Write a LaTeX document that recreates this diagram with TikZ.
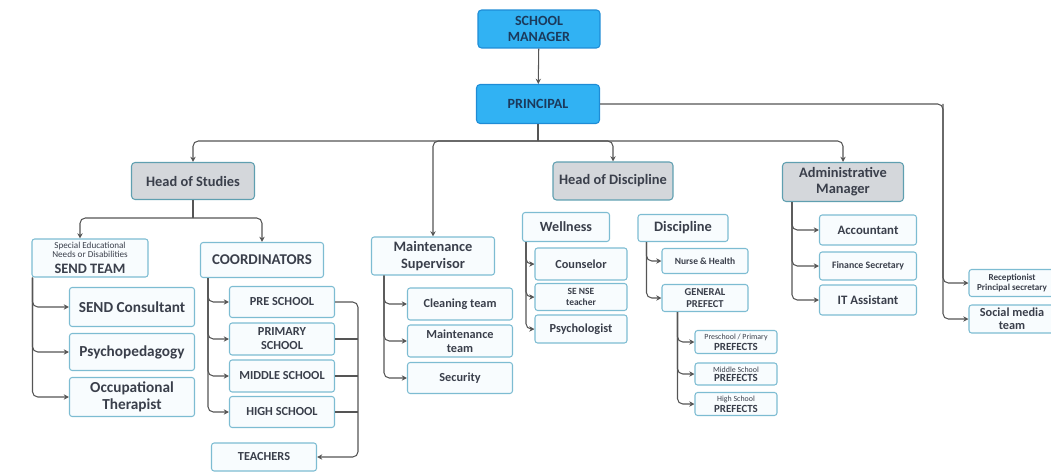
\documentclass[tikz,border=0pt]{standalone}
\usepackage{fontspec}
\setmainfont{Carlito}
\usetikzlibrary{arrows.meta,positioning,calc}

\definecolor{topblue}{HTML}{31B2F3}
\definecolor{topedge}{HTML}{1E8CD6}
\definecolor{headgray}{HTML}{D4D7DB}
\definecolor{headedge}{HTML}{5F9FB0}
\definecolor{unitedge}{HTML}{7DBCD2}
\definecolor{unitfill}{HTML}{F8FCFE}
\definecolor{linegray}{HTML}{555555}
\definecolor{txt}{HTML}{3A3F4B}
\definecolor{navy}{HTML}{1B3A5C}

\newcommand{\fsz}[1]{\fontsize{#1}{#1}\selectfont}

\begin{document}
\begin{tikzpicture}[
  x=0.02cm, y=-0.02cm,
  top/.style={draw=topedge, fill=topblue, rounded corners=2pt, line width=0.6pt, align=center, inner sep=0pt, font=\bfseries\fsz{8}, text=navy},
  head/.style={draw=headedge, fill=headgray, rounded corners=2pt, line width=0.6pt, align=center, inner sep=0pt, font=\bfseries\fsz{8.2}, text=txt},
  unit/.style={draw=unitedge, fill=unitfill, rounded corners=1.5pt, line width=0.6pt, align=center, inner sep=0pt, font=\bfseries\fsz{7}, text=txt},
  conn/.style={draw=linegray, line width=0.6pt, rounded corners=3pt, -{Stealth[length=3pt,width=3pt]}},
  line/.style={draw=linegray, line width=0.6pt, rounded corners=3pt}
]
\useasboundingbox (0,0) rectangle (1051,473);

% top of the chart
\node[top, minimum width=2.44cm, minimum height=0.76cm] (manager) at (539,29) {SCHOOL\\[1pt]MANAGER};
\node[top, minimum width=2.46cm, minimum height=0.78cm] (principal) at (538,104) {PRINCIPAL};
\draw[conn] (manager) -- (principal);

% heads
\node[head, minimum width=2.46cm, minimum height=0.74cm] (studies) at (193,181) {Head of Studies};
\node[head, minimum width=2.40cm, minimum height=0.76cm] (discip) at (613,181) {Head of Discipline};
\node[head, minimum width=2.42cm, minimum height=0.78cm] (admin) at (843,182) {Administrative\\[1pt]Manager};
\node[unit, font=\bfseries\fsz{8.2}, minimum width=2.46cm, minimum height=0.76cm] (maint) at (433,256) {Maintenance\\[1pt]Supervisor};

\coordinate (bus) at (538,141);
\draw[line] (principal.south) -- (bus);
\draw[conn] (bus) -| (studies.north);
\draw[conn] (bus) -| (maint.north);
\draw[conn] (bus) -| (discip.north);
\draw[conn] (bus) -| (admin.north);

% head of studies
\node[unit, font=\mdseries\fsz{5.2}, minimum width=2.32cm, minimum height=0.76cm] (send) at (90,258)
  {Special Educational\\Needs or Disabilities\\[2.4pt]\bfseries\fsz{8.2}SEND TEAM};
\node[unit, font=\bfseries\fsz{8.5}, minimum width=2.46cm, minimum height=0.70cm] (coord) at (262,260) {COORDINATORS};
\coordinate (hsbus) at (193,218);
\draw[line] (studies.south) -- (hsbus);
\draw[conn] (hsbus) -| ([xshift=-0.2cm]send.north);
\draw[conn] (hsbus) -| (coord.north);

\node[unit, font=\bfseries\fsz{8.7}, minimum width=2.50cm, minimum height=0.78cm] (sendcons) at (132,307) {SEND Consultant};
\node[unit, font=\bfseries\fsz{8.7}, minimum width=2.50cm, minimum height=0.74cm] (psycho) at (132,352) {Psychopedagogy};
\node[unit, font=\bfseries\fsz{8.7}, minimum width=2.50cm, minimum height=0.78cm] (occup) at (132,397) {Occupational\\[1pt]Therapist};
\foreach \n in {sendcons,psycho,occup}
  \draw[conn] ([xshift=0.02cm]send.south west) |- (\n.west);

\node[unit, minimum width=2.10cm, minimum height=0.62cm] (pre) at (282,302) {PRE SCHOOL};
\node[unit, minimum width=2.10cm, minimum height=0.64cm] (primary) at (282,339) {PRIMARY\\[1pt]SCHOOL};
\node[unit, minimum width=2.10cm, minimum height=0.64cm] (middle) at (282,376) {MIDDLE SCHOOL};
\node[unit, minimum width=2.10cm, minimum height=0.62cm] (high) at (282,412) {HIGH SCHOOL};
\node[unit, minimum width=2.10cm, minimum height=0.56cm] (teachers) at (264,457) {TEACHERS};
\foreach \n in {pre,primary,middle,high}
  \draw[conn] ([xshift=0.16cm]coord.south west) |- (\n.west);
\draw[conn] (pre.east) -| ([xshift=0.46cm]high.east) |- (teachers.east);
\foreach \n in {primary,middle,high}
  \draw[line] (\n.east) -- ++(23,0);

% maintenance
\node[unit, minimum width=2.10cm, minimum height=0.64cm] (cleaning) at (460,304) {Cleaning team};
\node[unit, minimum width=2.10cm, minimum height=0.64cm] (mteam) at (460,341) {Maintenance\\[1pt]team};
\node[unit, minimum width=2.10cm, minimum height=0.62cm] (security) at (460,378) {Security};
\foreach \n in {cleaning,mteam,security}
  \draw[conn] ([xshift=0.26cm]maint.south west) |- (\n.west);

% head of discipline
\node[unit, font=\bfseries\fsz{8}, minimum width=1.74cm, minimum height=0.58cm] (wellness) at (566,227) {Wellness};
\node[unit, minimum width=1.84cm, minimum height=0.64cm] (counselor) at (581,264) {Counselor};
\node[unit, font=\bfseries\fsz{5.4}, minimum width=1.84cm, minimum height=0.54cm] (seteacher) at (581,297) {SE NSE\\[0.5pt]teacher};
\node[unit, minimum width=1.84cm, minimum height=0.56cm] (psychol) at (581,329) {Psychologist};
\foreach \n in {counselor,seteacher,psychol}
  \draw[conn] ([xshift=0.08cm]wellness.south west) |- (\n.west);

\node[unit, font=\bfseries\fsz{8.2}, minimum width=1.80cm, minimum height=0.54cm] (discipline) at (683,228) {Discipline};
\node[unit, font=\bfseries\fsz{5.4}, minimum width=1.72cm, minimum height=0.50cm] (nurse) at (705,261) {Nurse \& Health};
\node[unit, font=\bfseries\fsz{6}, minimum width=1.72cm, minimum height=0.54cm] (genpref) at (705,298) {GENERAL\\[0.5pt]PREFECT};
\foreach \n in {nurse,genpref}
  \draw[conn] ([xshift=0.18cm]discipline.south west) |- (\n.west);

\node[unit, font=\mdseries\fsz{4.5}, minimum width=1.64cm, minimum height=0.46cm] (ppref) at (736,342)
  {Preschool / Primary\\[0.6pt]\bfseries\fsz{6.2}PREFECTS};
\node[unit, font=\mdseries\fsz{4.5}, minimum width=1.64cm, minimum height=0.44cm] (mpref) at (736,374)
  {Middle School\\[0.6pt]\bfseries\fsz{6.2}PREFECTS};
\node[unit, font=\mdseries\fsz{4.5}, minimum width=1.64cm, minimum height=0.46cm] (hpref) at (736,404)
  {High School\\[0.6pt]\bfseries\fsz{6.2}PREFECTS};
\foreach \n in {ppref,mpref,hpref}
  \draw[conn] ([xshift=0.32cm]genpref.south west) |- (\n.west);

% administration
\node[unit, font=\bfseries\fsz{7.3}, minimum width=1.94cm, minimum height=0.60cm] (accountant) at (868,230) {Accountant};
\node[unit, font=\bfseries\fsz{5.6}, minimum width=1.94cm, minimum height=0.56cm] (finance) at (868,266) {Finance Secretary};
\node[unit, font=\bfseries\fsz{7.3}, minimum width=1.94cm, minimum height=0.60cm] (itass) at (868,300) {IT Assistant};
\foreach \n in {accountant,finance,itass}
  \draw[conn] ([xshift=0.2cm]admin.south west) |- (\n.west);

% principal's office
\node[unit, font=\bfseries\fsz{5.2}, minimum width=1.72cm, minimum height=0.54cm] (reception) at (1012,283) {Receptionist\\[0.5pt]Principal secretary};
\node[unit, font=\bfseries\fsz{7}, minimum width=1.72cm, minimum height=0.56cm] (social) at (1012,319) {Social media\\[0.5pt]team};
\coordinate (rbend) at (943,104);
\draw[conn] (principal.east) -- (rbend) |- (reception.west);
\draw[conn] (rbend) |- (social.west);

\end{tikzpicture}
\end{document}
